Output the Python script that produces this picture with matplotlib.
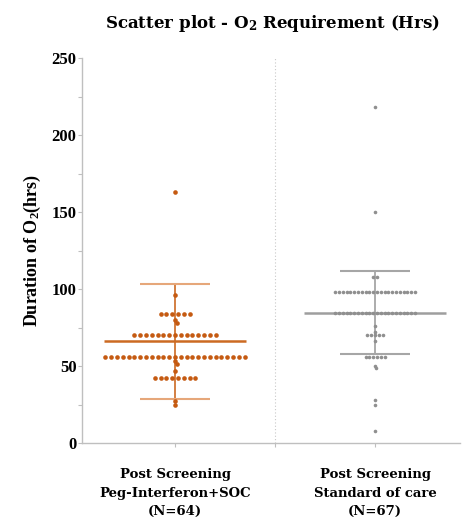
import numpy as np
import matplotlib
matplotlib.use('Agg')
import matplotlib.pyplot as plt

# Data (hours of O2)
groups = ['Post Screening\nPeg-Interferon+SOC\n(N=64)',
          'Post Screening\nStandard of care\n(N=67)']

peg_values = ([163, 96] + [84] * 6 + [80, 78] + [70] * 15 + [56] * 25 +
              [53, 51, 47] + [42] * 8 + [27.5, 25])
soc_values = ([218, 150, 108, 108] + [98] * 22 + [84.5] * 22 + [76, 72] +
              [70] * 5 + [66] + [56] * 6 + [50, 48.5, 28, 25, 8])

means = [66, 84.5]
sds = [37.5, 27]

dot_colors = ['#C55A11', '#8F8F8F']
mean_colors = ['#CC6A22', '#9E9E9E']
cap_colors = ['#E6A77A', '#A6A6A6']
dot_px = [4.6, 3.6]      # marker diameter in pixels
row_px = [5.8, 3.8]      # horizontal spacing of equal values
hit_px = [3.7, 2.6]      # collision distance for lone values


def swarm(values, row_sp, hit, px_per_y, px_per_x):
    """Equal values form centred rows; lone values dodge their neighbours."""
    values = np.asarray(values, dtype=float)
    xs = np.zeros(len(values))
    placed = []
    uniq, counts = np.unique(values, return_counts=True)
    for v, n in zip(uniq, counts):
        if n > 1:
            idx = np.where(values == v)[0]
            for j, i in enumerate(idx):
                xs[i] = (j - (n - 1) / 2) * row_sp
                placed.append((xs[i], v * px_per_y))
    for v, n in sorted(zip(uniq, counts), key=lambda t: -t[0]):
        if n > 1:
            continue
        i = np.where(values == v)[0][0]
        y = v * px_per_y
        cands = [0.0]
        for px, py in placed:
            dy = abs(py - y)
            if dy < hit:
                dx = np.sqrt(hit ** 2 - dy ** 2)
                cands += [px + dx + 1e-6, px - dx - 1e-6]
        cands.sort(key=lambda c: (round(abs(c), 4), -c))
        for c in cands:
            if all((c - px) ** 2 + (y - py) ** 2 >= hit ** 2 - 1e-3
                   for px, py in placed):
                xs[i] = c
                placed.append((c, y))
                break
    return xs / px_per_x


fig = plt.figure(figsize=(4.62, 5.21), dpi=100)
ax = fig.add_axes([82 / 462, 78 / 521, 378 / 462, 385 / 521])

xmin, xmax = -0.465, 1.425
ax.set_xlim(xmin, xmax)
ax.set_ylim(0, 250)
px_x = 378 / (xmax - xmin)
px_y = 385 / 250

for k, vals in enumerate([peg_values, soc_values]):
    offs = swarm(vals, row_px[k], hit_px[k], px_y, px_x)
    ax.scatter(k + offs, vals, s=(dot_px[k] * 0.72) ** 2, color=dot_colors[k],
               linewidths=0, zorder=3)
    m, sd = means[k], sds[k]
    ax.plot([k, k], [m - sd, m + sd], color=mean_colors[k], lw=1.2, zorder=2)
    ax.plot([k - 0.356, k + 0.356], [m, m], color=mean_colors[k], lw=1.8, zorder=2,
            solid_capstyle='butt')
    for yv in (m - sd, m + sd):
        ax.plot([k - 0.177, k + 0.177], [yv, yv], color=cap_colors[k], lw=1.5,
                zorder=2, solid_capstyle='butt')

ax.axvline(0.5, color='#C8C8C8', lw=0.8, ls=(0, (1, 2)), zorder=1)

for s in ['top', 'right']:
    ax.spines[s].set_visible(False)
for s in ['left', 'bottom']:
    ax.spines[s].set_color('#BFBFBF')
    ax.spines[s].set_linewidth(1)

ax.set_yticks([0, 50, 100, 150, 200, 250])
ax.set_yticks([25, 75, 125, 175, 225], minor=True)
ax.set_xticks([0, 0.5, 1])
ax.set_xticklabels(['', '', ''])
ax.tick_params(axis='both', which='both', color='#BFBFBF', length=3, width=0.8)
ax.tick_params(axis='y', which='major', pad=1)
for lab in ax.get_yticklabels():
    lab.set_fontfamily('Liberation Serif')
    lab.set_fontweight('bold')
    lab.set_fontsize(12)

ax.set_ylabel(r'Duration of $\mathregular{O_2}$(hrs)', fontfamily='Liberation Serif',
              fontweight='bold', fontsize=13, labelpad=6)

for k, g in enumerate(groups):
    ax.text(k, -16.5, g, ha='center', va='top', fontfamily='DejaVu Serif',
            fontweight='bold', fontsize=9.5, linespacing=1.55)

fig.text(0.59, 0.955, r'Scatter plot - $\mathregular{O_2}$ Requirement (Hrs)',
         ha='center', va='center', fontfamily='DejaVu Serif', fontweight='bold',
         fontsize=12)

fig.savefig('out.png', dpi=100, facecolor='white')
